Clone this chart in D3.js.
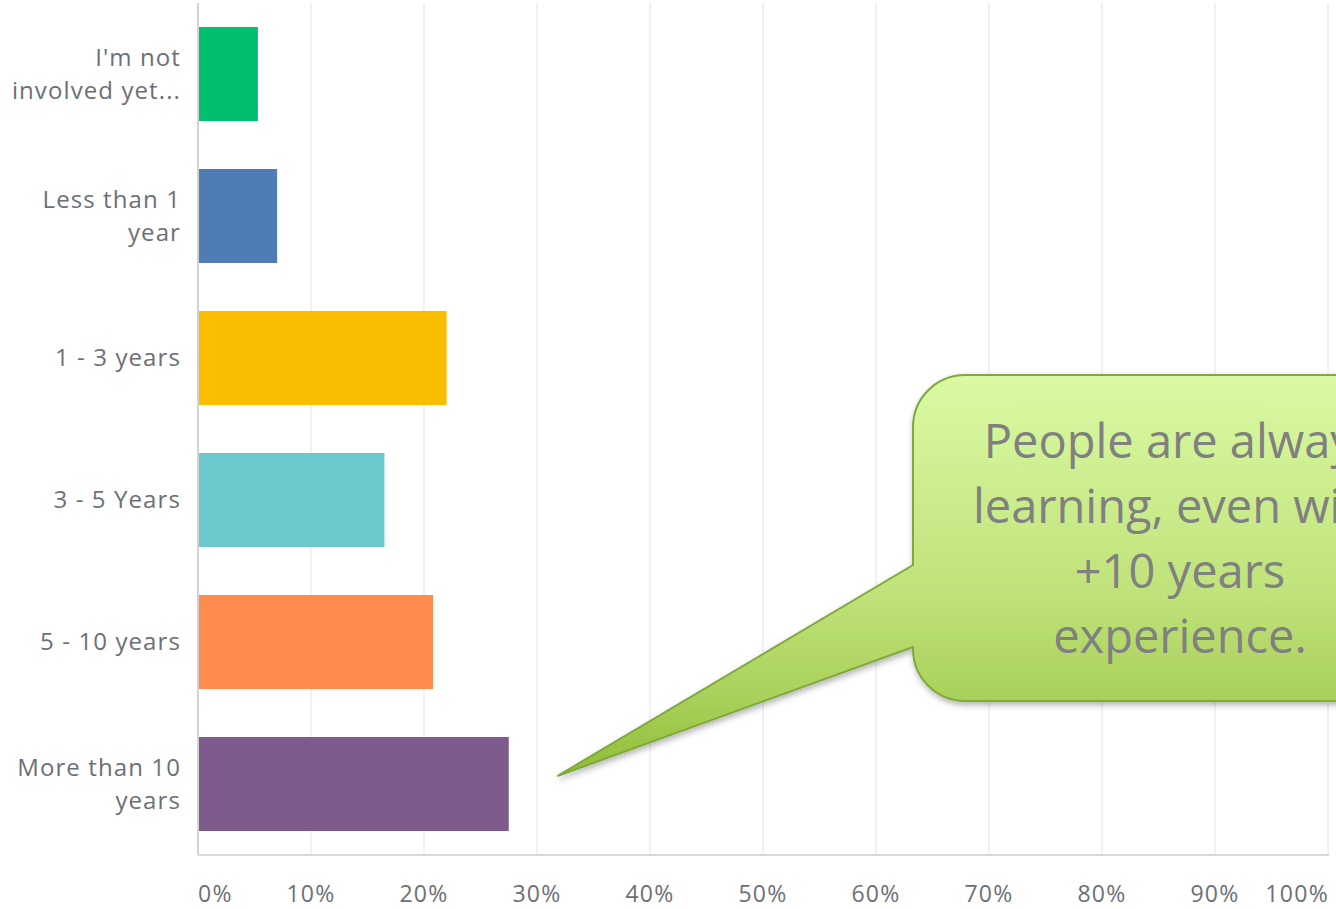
<!DOCTYPE html>
<html>
<head>
<meta charset="utf-8">
<script src="https://cdn.jsdelivr.net/npm/d3@7"></script>
<style>
  html, body { margin: 0; padding: 0; background: #fff; overflow: hidden; }
  svg { display: block; }
  .cat-label { font-family: "Open Sans", Roboto, sans-serif; font-size: 24px; letter-spacing: 1.1px; fill: #6b7078; }
  .tick-label { font-family: "Open Sans", Roboto, sans-serif; font-size: 23px; letter-spacing: 1.3px; fill: #6b7078; }
  .callout-text { font-family: "Open Sans", Lato, sans-serif; font-size: 47px; fill: #808080; }
</style>
</head>
<body>
<div id="chart"></div>
<script>
// answer choices (line breaks as shown in the survey chart)
const categories = [
  "I'm not\ninvolved yet...",
  "Less than 1\nyear",
  "1 - 3 years",
  "3 - 5 Years",
  "5 - 10 years",
  "More than 10\nyears"
];
// share of respondents, percent
const values = [5.3, 7.0, 22.0, 16.5, 20.8, 27.5];
const barColors = ["#00bf6f", "#507cb6", "#f9be00", "#6bc8cd", "#ff8b4f", "#7d5c8d"];
const xTicks = [0, 10, 20, 30, 40, 50, 60, 70, 80, 90, 100];
const calloutLines = ["People are always", "learning, even with", "+10 years", "experience."];

const width = 1336, height = 909;
const margin = { top: 3, left: 198, right: 6, bottom: 54 };

const svg = d3.select('#chart').append('svg')
  .attr('width', width)
  .attr('height', height);

const x = d3.scaleLinear()
  .domain([0, 100])
  .range([margin.left, width - margin.right - 2]);

const y = d3.scaleBand()
  .domain(categories)
  .range([margin.top, height - margin.bottom])
  .paddingInner(0.338)
  .paddingOuter(0.169);

const plotBottom = height - margin.bottom;

// vertical gridlines
svg.append('g')
  .selectAll('line')
  .data(xTicks.filter(d => d > 0))
  .join('line')
  .attr('x1', d => x(d)).attr('x2', d => x(d))
  .attr('y1', margin.top).attr('y2', plotBottom)
  .attr('stroke', '#ececec')
  .attr('stroke-width', 1.5);

// bars
svg.append('g')
  .selectAll('rect')
  .data(values)
  .join('rect')
  .attr('x', x(0))
  .attr('y', (d, i) => y(categories[i]))
  .attr('width', d => x(d) - x(0))
  .attr('height', y.bandwidth())
  .attr('fill', (d, i) => barColors[i]);

// axis lines
svg.append('line')
  .attr('x1', x(0)).attr('x2', x(0))
  .attr('y1', margin.top).attr('y2', plotBottom)
  .attr('stroke', '#d2d2d2').attr('stroke-width', 2);
svg.append('line')
  .attr('x1', x(0)).attr('x2', x(100) + 1)
  .attr('y1', plotBottom).attr('y2', plotBottom)
  .attr('stroke', '#d8d8d8').attr('stroke-width', 2);

// category labels (right aligned, wrapped)
const lineH = 33;
const labelX = x(0) - 17;
const catG = svg.append('g');
categories.forEach(c => {
  const lines = c.split('\n');
  const cy = y(c) + y.bandwidth() / 2;
  const t = catG.append('text')
    .attr('class', 'cat-label')
    .attr('text-anchor', 'end')
    .attr('x', labelX)
    .attr('y', cy - (lines.length - 1) * lineH / 2);
  lines.forEach((ln, j) => {
    t.append('tspan')
      .attr('x', labelX)
      .attr('dy', j === 0 ? '0.35em' : lineH)
      .text(ln);
  });
});

// x tick labels: first start-aligned, last end-aligned
svg.append('g')
  .selectAll('text')
  .data(xTicks)
  .join('text')
  .attr('class', 'tick-label')
  .attr('x', d => d === 100 ? x(100) + 1 : x(d))
  .attr('y', 902)
  .attr('text-anchor', d => d === 0 ? 'start' : (d === 100 ? 'end' : 'middle'))
  .text(d => d + '%');

// callout annotation
const defs = svg.append('defs');
const grad = defs.append('linearGradient')
  .attr('id', 'calloutFill')
  .attr('gradientUnits', 'userSpaceOnUse')
  .attr('x1', 0).attr('y1', 375).attr('x2', 0).attr('y2', 776);
grad.append('stop').attr('offset', '0%').attr('stop-color', '#dafaa3');
grad.append('stop').attr('offset', '55%').attr('stop-color', '#bfe27a');
grad.append('stop').attr('offset', '81%').attr('stop-color', '#a9d05a');
grad.append('stop').attr('offset', '100%').attr('stop-color', '#8fbd34');

const shadow = defs.append('filter')
  .attr('id', 'calloutShadow')
  .attr('x', '-10%').attr('y', '-10%').attr('width', '130%').attr('height', '130%');
shadow.append('feDropShadow')
  .attr('dx', 1).attr('dy', 3).attr('stdDeviation', 3)
  .attr('flood-color', '#000').attr('flood-opacity', 0.3);

const box = { x0: 913, y0: 375, x1: 1447, y1: 701, r: 52 };
const tailTop = 565, tailBottom = 647;
const tip = [x(31.8), y(categories[5]) + y.bandwidth() / 2 - 8];

const p = d3.path();
p.moveTo(box.x0, box.y0 + box.r);
p.arcTo(box.x0, box.y0, box.x0 + box.r, box.y0, box.r);
p.lineTo(box.x1 - box.r, box.y0);
p.arcTo(box.x1, box.y0, box.x1, box.y0 + box.r, box.r);
p.lineTo(box.x1, box.y1 - box.r);
p.arcTo(box.x1, box.y1, box.x1 - box.r, box.y1, box.r);
p.lineTo(box.x0 + box.r, box.y1);
p.arcTo(box.x0, box.y1, box.x0, box.y1 - box.r, box.r);
p.lineTo(box.x0, tailBottom);
p.lineTo(tip[0], tip[1]);
p.lineTo(box.x0, tailTop);
p.closePath();

svg.append('path')
  .attr('d', p.toString())
  .attr('fill', 'url(#calloutFill)')
  .attr('stroke', '#7fa83e')
  .attr('stroke-width', 2)
  .attr('filter', 'url(#calloutShadow)');

const textCx = (box.x0 + box.x1) / 2;
svg.append('g')
  .selectAll('text')
  .data(calloutLines)
  .join('text')
  .attr('class', 'callout-text')
  .attr('text-anchor', 'middle')
  .attr('x', textCx)
  .attr('y', (d, i) => 458 + i * 65)
  .text(d => d);
</script>
</body>
</html>
